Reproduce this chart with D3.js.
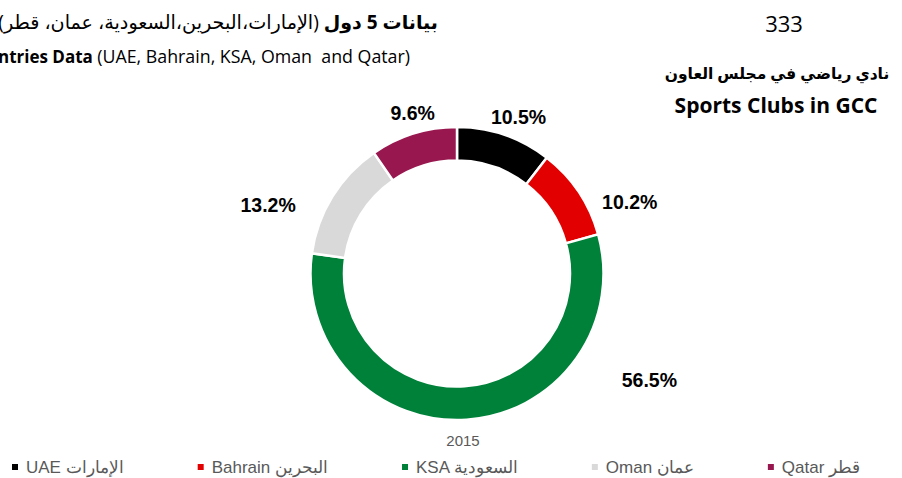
<!DOCTYPE html>
<html>
<head>
<meta charset="utf-8">
<script src="https://cdn.jsdelivr.net/npm/d3@7/dist/d3.min.js"></script>
<style>
  html, body { margin: 0; padding: 0; background: #fff; overflow: hidden; }
  svg { display: block; }
  text { white-space: pre; }
</style>
</head>
<body>
<svg id="chart" width="902" height="478"></svg>
<script>
// Share of sports clubs by GCC country, 2015
const countriesEn = ["UAE", "Bahrain", "KSA", "Oman", "Qatar"];
const countriesAr = ["الإمارات", "البحرين", "السعودية", "عمان", "قطر"];
const shares = [10.5, 10.2, 56.5, 13.2, 9.6];
const colors = ["#000000", "#e20000", "#00813a", "#d9d9d9", "#99174f"];
const yearLabel = "2015";
const totalClubs = "333";

const svg = d3.select("#chart");
const cx = 457, cy = 273.5;
const outerR = 146.5, innerR = 113;

const font = "'Open Sans', 'DejaVu Sans', sans-serif";
const arialFont = "'Liberation Sans', Arial, sans-serif";

// Titles (left block, right-aligned and running off the left edge)
const t1 = svg.append("text")
  .attr("x", 438).attr("y", 29)
  .attr("text-anchor", "start")
  .attr("direction", "rtl")
  .attr("font-family", font)
  .attr("fill", "#000");
t1.append("tspan").attr("font-weight", "bold").attr("font-size", 19).text("بيانات 5 دول ");
t1.append("tspan").attr("font-size", 19.2).text("(الإمارات،البحرين،السعودية، عمان، قطر)");

const t2 = svg.append("text")
  .attr("x", 410).attr("y", 63)
  .attr("text-anchor", "end")
  .attr("font-family", font)
  .attr("fill", "#000");
t2.append("tspan").attr("font-weight", "bold").attr("font-size", 17).text("5 Countries Data ");
t2.append("tspan").attr("font-size", 17.8).text("(UAE, Bahrain, KSA, Oman  and Qatar)");

// Right block
svg.append("text")
  .attr("x", 784).attr("y", 32)
  .attr("text-anchor", "middle")
  .attr("font-family", font)
  .attr("font-size", 22)
  .attr("fill", "#000")
  .text(totalClubs);
svg.append("text")
  .attr("x", 777).attr("y", 79)
  .attr("text-anchor", "middle")
  .attr("direction", "rtl")
  .attr("font-family", font)
  .attr("font-weight", "bold")
  .attr("font-size", 15.5)
  .attr("fill", "#000")
  .text("نادي رياضي في مجلس العاون");
svg.append("text")
  .attr("x", 776).attr("y", 113)
  .attr("text-anchor", "middle")
  .attr("font-family", font)
  .attr("font-weight", "bold")
  .attr("font-size", 21)
  .attr("fill", "#000")
  .text("Sports Clubs in GCC");

// Donut
const pie = d3.pie().value(d => d).sort(null);
const arcs = pie(shares);
const arc = d3.arc().innerRadius(innerR).outerRadius(outerR);

const g = svg.append("g").attr("transform", `translate(${cx},${cy})`);
g.selectAll("path.slice")
  .data(arcs)
  .join("path")
  .attr("class", "slice")
  .attr("d", arc)
  .attr("fill", (d, i) => colors[i])
  .attr("stroke", "#fff")
  .attr("stroke-width", 2.5);

// Data label placement: polar offsets (degrees clockwise from top, radius)
const labelPlacement = [
  { angle: 21.5, r: 168 },
  { angle: 67.5, r: 187 },
  { angle: 119, r: 220 },
  { angle: 290, r: 201 },
  { angle: 344.5, r: 166 }
];
g.selectAll("text.val")
  .data(arcs)
  .join("text")
  .attr("class", "val")
  .attr("x", (d, i) => labelPlacement[i].r * Math.sin(labelPlacement[i].angle * Math.PI / 180))
  .attr("y", (d, i) => -labelPlacement[i].r * Math.cos(labelPlacement[i].angle * Math.PI / 180))
  .attr("dy", "0.35em")
  .attr("text-anchor", "middle")
  .attr("font-family", arialFont)
  .attr("font-weight", "bold")
  .attr("font-size", 19.5)
  .attr("fill", "#000")
  .text(d => d.data.toFixed(1) + "%");

// Category (year) label below the donut
svg.append("text")
  .attr("x", 463).attr("y", 446)
  .attr("text-anchor", "middle")
  .attr("font-family", arialFont)
  .attr("font-size", 15)
  .attr("fill", "#595959")
  .text(yearLabel);

// Legend: items flow left to right with a fixed gap between them
const legendGap = 74, swatch = 6, swatchPad = 8;
const legend = svg.append("g").attr("transform", "translate(12,467)");
let lx = 0;
countriesEn.forEach((name, i) => {
  const item = legend.append("g").attr("transform", `translate(${lx},0)`);
  item.append("rect")
    .attr("x", 0).attr("y", -swatch / 2)
    .attr("width", swatch).attr("height", swatch)
    .attr("fill", colors[i]);
  const label = item.append("text")
    .attr("x", swatch + swatchPad).attr("y", 0)
    .attr("dy", "0.35em")
    .attr("font-family", arialFont)
    .attr("font-size", 17)
    .attr("fill", "#595959")
    .text(name + " " + countriesAr[i]);
  lx += swatch + swatchPad + label.node().getComputedTextLength() + legendGap;
});
</script>
</body>
</html>
